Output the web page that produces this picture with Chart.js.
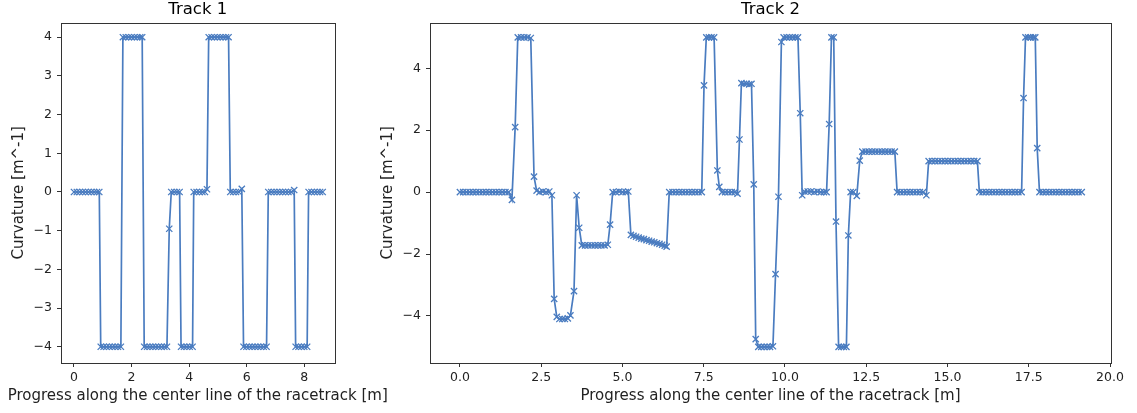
<!DOCTYPE html>
<html>
<head>
<meta charset="utf-8">
<script src="https://cdn.jsdelivr.net/npm/chart.js@4.4.1/dist/chart.umd.min.js"></script>
<style>
html,body{margin:0;padding:0;background:#fff;}
#wrap{position:relative;width:1137px;height:413px;overflow:hidden;background:#fff;}
canvas{position:absolute;top:0;}
#c1{left:0;}
#c2{left:370px;}
</style>
</head>
<body>
<div id="wrap">
<canvas id="c1" width="400" height="413"></canvas>
<canvas id="c2" width="767" height="413"></canvas>
</div>
<script>
// ---------------- DATA ----------------
const TITLES = ['Track 1', 'Track 2'];
const X_LABEL = 'Progress along the center line of the racetrack [m]';
const Y_LABEL = 'Curvature [m^-1]';

const T1_X = [
  0.0,0.1,0.2,0.3,0.4,0.5,0.6,0.7,0.8,0.88,
  0.93,1.03,1.13,1.23,1.33,1.43,1.53,1.63,
  1.70,1.80,1.90,2.00,2.10,2.20,2.30,2.37,
  2.44,2.54,2.64,2.74,2.84,2.94,3.04,3.14,3.23,
  3.31,
  3.38,3.48,3.58,3.67,
  3.72,3.82,3.92,4.02,4.12,
  4.16,4.26,4.36,4.46,4.55,
  4.62,
  4.68,4.78,4.88,4.98,5.08,5.18,5.28,5.37,
  5.43,5.53,5.63,5.73,
  5.83,
  5.89,5.99,6.09,6.19,6.29,6.39,6.49,6.59,6.69,
  6.75,6.85,6.95,7.05,7.15,7.25,7.35,7.45,7.55,
  7.65,
  7.70,7.80,7.90,8.00,8.10,
  8.15,8.25,8.35,8.45,8.55,8.64
];
const T1_Y = [
  0,0,0,0,0,0,0,0,0,0,
  -4,-4,-4,-4,-4,-4,-4,-4,
  4,4,4,4,4,4,4,4,
  -4,-4,-4,-4,-4,-4,-4,-4,-4,
  -0.95,
  0,0,0,0,
  -4,-4,-4,-4,-4,
  0,0,0,0,0,
  0.07,
  4,4,4,4,4,4,4,4,
  0,0,0,0,
  0.08,
  -4,-4,-4,-4,-4,-4,-4,-4,-4,
  0,0,0,0,0,0,0,0,0,
  0.05,
  -4,-4,-4,-4,-4,
  0,0,0,0,0,0
];

const T2_X = [
  0.0,0.1,0.2,0.3,0.4,0.5,0.6,0.7,0.8,0.9,1.0,1.1,1.2,1.3,1.4,1.5,
  1.60,1.70,
  1.78,1.88,1.98,2.08,2.18,
  2.28,2.36,
  2.45,2.55,2.65,2.75,
  2.83,2.90,
  2.98,3.06,3.15,3.23,3.32,3.40,
  3.51,3.59,3.67,
  3.75,3.85,3.95,4.05,4.15,4.25,4.35,4.45,4.55,
  4.62,
  4.70,4.80,4.90,5.00,5.10,5.18,
  5.26,5.34,5.42,5.50,5.58,5.66,5.74,5.82,5.90,5.98,6.06,6.14,6.22,6.30,6.36,
  6.44,6.54,6.64,6.74,6.84,6.94,7.04,7.14,7.24,7.34,7.44,
  7.51,
  7.58,7.66,7.74,7.82,
  7.92,7.98,
  8.06,8.16,8.26,8.36,8.46,8.54,
  8.60,
  8.66,8.74,8.82,8.90,8.97,
  9.04,9.10,
  9.18,9.27,9.36,9.45,9.54,9.63,
  9.71,9.80,9.89,
  9.96,10.05,10.14,10.23,10.32,10.40,
  10.47,10.53,
  10.60,10.70,10.80,10.90,11.00,11.10,11.20,11.28,
  11.36,
  11.43,11.50,
  11.57,
  11.65,11.73,11.81,11.89,
  11.95,12.02,12.10,12.21,12.30,
  12.38,12.48,12.58,12.68,12.78,12.88,12.98,13.08,13.18,13.28,13.38,
  13.45,13.55,13.65,13.75,13.85,13.95,14.05,14.15,14.25,14.35,
  14.42,14.52,14.62,14.72,14.82,14.92,15.02,15.12,15.22,15.32,15.42,15.52,15.62,15.72,15.82,15.92,
  15.98,16.08,16.18,16.28,16.38,16.48,16.58,16.68,16.78,16.88,16.98,17.08,17.18,17.28,
  17.34,
  17.40,17.48,17.56,17.64,17.70,
  17.76,
  17.83,17.93,18.03,18.13,18.23,18.33,18.43,18.53,18.63,18.73,18.83,18.93,19.03,19.13
];
const T2_Y = [
  0,0,0,0,0,0,0,0,0,0,0,0,0,0,0,0,
  -0.25,2.1,
  5.0,5.0,5.0,5.0,4.98,
  0.5,0.05,
  0.0,0.02,0.0,0.02,
  -0.1,-3.45,
  -4.03,-4.1,-4.1,-4.1,-4.08,-3.98,
  -3.2,-0.1,-1.15,
  -1.72,-1.72,-1.72,-1.72,-1.72,-1.72,-1.72,-1.72,-1.7,
  -1.05,
  0.0,0.0,0.02,0.0,0.0,0.02,
  -1.38,-1.41,-1.44,-1.47,-1.5,-1.52,-1.55,-1.57,-1.6,-1.62,-1.65,-1.67,-1.7,-1.73,-1.76,
  0,0,0,0,0,0,0,0,0,0,0,
  3.45,
  5.0,5.0,5.0,5.0,
  0.7,0.17,
  0.0,0.0,0.0,0.0,0.0,-0.05,
  1.7,
  3.52,3.5,3.5,3.48,3.5,
  0.25,-4.75,
  -5.0,-5.0,-5.0,-5.0,-5.0,-4.98,
  -2.65,-0.15,4.85,
  5.0,5.0,5.0,5.0,5.0,5.0,
  2.55,-0.1,
  0.02,0.02,0.02,0.0,0.02,0.0,0.0,0.0,
  2.2,
  5.0,5.0,
  -0.95,
  -5.0,-5.0,-5.0,-5.0,
  -1.4,0.0,0.0,-0.12,1.02,
  1.31,1.31,1.31,1.31,1.31,1.31,1.31,1.31,1.31,1.31,1.31,
  0,0,0,0,0,0,0,0,0,-0.1,
  1.0,1.0,1.0,1.0,1.0,1.0,1.0,1.0,1.0,1.0,1.0,1.0,1.0,1.0,1.0,1.0,
  0,0,0,0,0,0,0,0,0,0,0,0,0,0,
  3.04,
  5.0,5.0,5.0,5.0,5.0,
  1.42,
  0,0,0,0,0,0,0,0,0,0,0,0,0,0
];

const T1_XTICKS = [0, 2, 4, 6, 8];
const T1_XTICK_LABELS = ['0', '2', '4', '6', '8'];
const T1_YTICKS = [-4, -3, -2, -1, 0, 1, 2, 3, 4];
const T1_YTICK_LABELS = ['\u22124', '\u22123', '\u22122', '\u22121', '0', '1', '2', '3', '4'];
const T2_XTICKS = [0, 2.5, 5, 7.5, 10, 12.5, 15, 17.5, 20];
const T2_XTICK_LABELS = ['0.0', '2.5', '5.0', '7.5', '10.0', '12.5', '15.0', '17.5', '20.0'];
const T2_YTICKS = [-4, -2, 0, 2, 4];
const T2_YTICK_LABELS = ['\u22124', '\u22122', '0', '2', '4'];

// ---------------- STYLE ----------------
const LINE_COLOR = '#4a7cc0';
const AXIS_COLOR = '#333333';
const TEXT_COLOR = '#222222';
const FONT = 'DejaVu Sans';

const framePlugin = {
  id: 'frameAndXLabel',
  afterDraw(chart, args, opts) {
    const {ctx, chartArea: a} = chart;
    ctx.save();
    ctx.strokeStyle = AXIS_COLOR;
    ctx.lineWidth = 1;
    const l = Math.round(a.left) + 0.5, t = Math.round(a.top) + 0.5;
    const r = Math.round(a.right) + 0.5, b = Math.round(a.bottom) + 0.5;
    ctx.strokeRect(l, t, r - l, b - t);
    ctx.fillStyle = TEXT_COLOR;
    ctx.font = '15px "' + FONT + '"';
    ctx.textAlign = 'center';
    ctx.textBaseline = 'middle';
    ctx.fillText(opts.text, (a.left + a.right) / 2, opts.y);
    ctx.restore();
  }
};

function makeChart(id, cfg) {
  const pts = cfg.xs.map((x, i) => ({x: x, y: cfg.ys[i]}));
  return new Chart(document.getElementById(id), {
    type: 'scatter',
    data: {
      datasets: [{
        data: pts,
        showLine: true,
        borderColor: LINE_COLOR,
        borderWidth: 1.7,
        pointStyle: 'crossRot',
        pointRadius: 4.4,
        pointBorderColor: LINE_COLOR,
        pointBackgroundColor: LINE_COLOR,
        pointBorderWidth: 1.3,
        pointHoverRadius: 4.4,
        tension: 0,
        fill: false
      }]
    },
    options: {
      responsive: false,
      animation: false,
      events: [],
      layout: {autoPadding: false, padding: {left: 0, top: 0, bottom: 0, right: cfg.padRight}},
      plugins: {
        legend: {display: false},
        tooltip: {enabled: false},
        title: {
          display: true, text: cfg.title, fullSize: false, color: '#000',
          font: {family: FONT, size: 16.5, weight: 'normal'},
          padding: {top: 0, bottom: 2.7}
        },
        frameAndXLabel: {text: X_LABEL, y: 396}
      },
      scales: {
        x: {
          type: 'linear', min: cfg.xmin, max: cfg.xmax,
          afterFit: s => { s.height = 50; },
          afterBuildTicks: s => { s.ticks = cfg.xticks.map(v => ({value: v})); },
          ticks: {
            autoSkip: false, maxRotation: 0, padding: 3, color: TEXT_COLOR,
            font: {family: FONT, size: 12.5},
            callback: (v, i) => cfg.xlabels[i]
          },
          grid: {drawOnChartArea: false, drawTicks: true, tickLength: 4, color: AXIS_COLOR, tickWidth: 1},
          border: {display: false}
        },
        y: {
          type: 'linear', min: cfg.ymin, max: cfg.ymax,
          afterFit: s => { s.width = cfg.yw; },
          afterBuildTicks: s => { s.ticks = cfg.yticks.map(v => ({value: v})); },
          ticks: {
            autoSkip: false, padding: 5, color: TEXT_COLOR,
            font: {family: FONT, size: 12.5},
            callback: (v, i) => cfg.ylabels[i]
          },
          grid: {drawOnChartArea: false, drawTicks: true, tickLength: 4, color: AXIS_COLOR, tickWidth: 1},
          border: {display: false},
          title: {
            display: true, text: Y_LABEL, color: TEXT_COLOR,
            font: {family: FONT, size: 15},
            padding: {top: cfg.yTitlePad, bottom: 0}
          }
        }
      }
    },
    plugins: [framePlugin]
  });
}

makeChart('c1', {
  title: TITLES[0], xs: T1_X, ys: T1_Y,
  xmin: -0.45, xmax: 9.05, ymin: -4.42, ymax: 4.38,
  xticks: T1_XTICKS, xlabels: T1_XTICK_LABELS,
  yticks: T1_YTICKS, ylabels: T1_YTICK_LABELS,
  yw: 61, padRight: 65.5, yTitlePad: 10.5
});
makeChart('c2', {
  title: TITLES[1], xs: T2_X, ys: T2_Y,
  xmin: -0.92, xmax: 20.03, ymin: -5.52, ymax: 5.48,
  xticks: T2_XTICKS, xlabels: T2_XTICK_LABELS,
  yticks: T2_YTICKS, ylabels: T2_YTICK_LABELS,
  yw: 60, padRight: 26, yTitlePad: 9
});
</script>
</body>
</html>
